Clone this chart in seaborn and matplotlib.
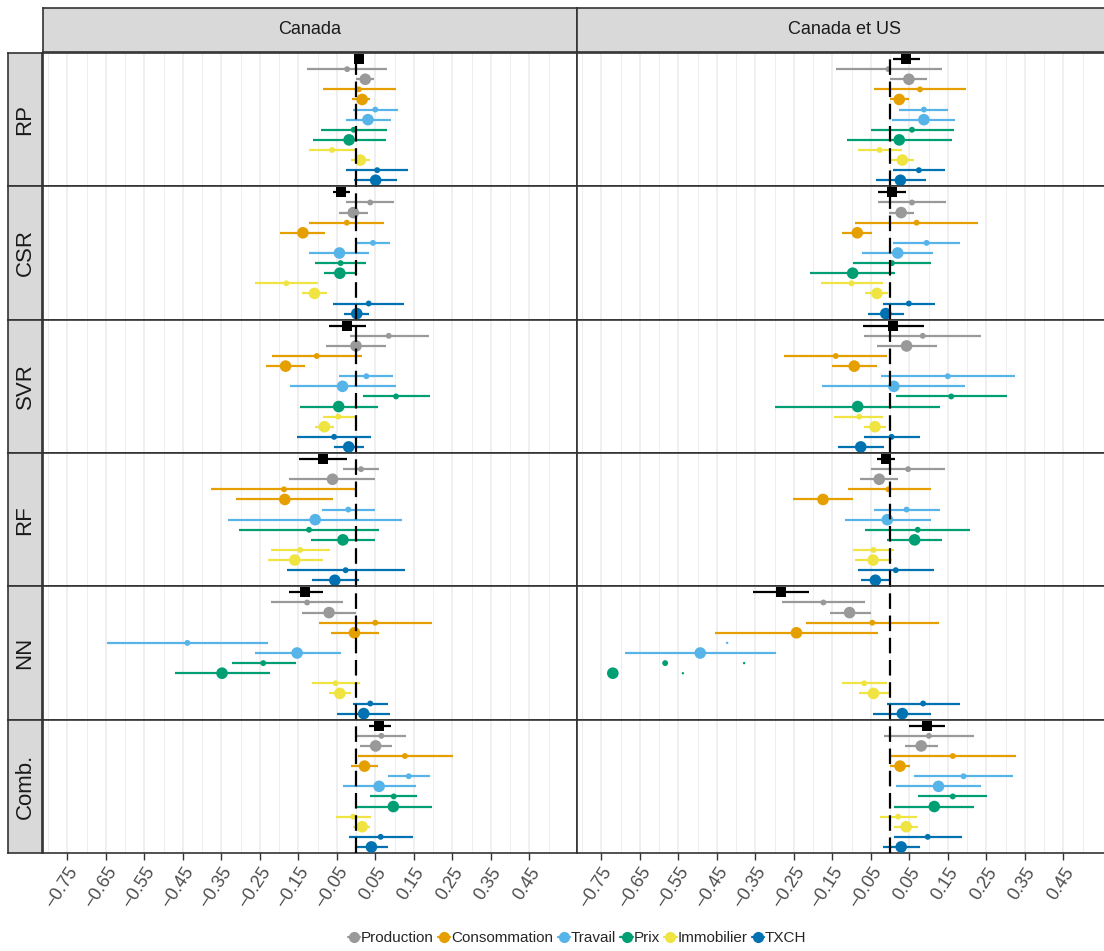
import numpy as np
import pandas as pd
import matplotlib
matplotlib.use("Agg")
import matplotlib.pyplot as plt
import seaborn as sns
from matplotlib.lines import Line2D

sns.set_theme(style="white")
plt.rcParams['font.family'] = ['Liberation Sans', 'DejaVu Sans']

nan = np.nan
regions = ["Canada", "Canada et US"]
methods = ["RP", "CSR", "SVR", "RF", "NN", "Comb."]
variables = ["Production", "Consommation", "Travail", "Prix", "Immobilier", "TXCH"]
palette = ["#999999", "#E69F00", "#56B4E9", "#009E73", "#F0E442", "#0072B2"]
tick_vals = [-0.75, -0.65, -0.55, -0.45, -0.35, -0.25, -0.15, -0.05, 0.05, 0.15, 0.25, 0.35, 0.45]

# each panel: row 0 = combined (black square), then per variable: (small, large) ; (estimate, low, high)
ca_rp = [(0.009, -0.002, 0.020), (-0.023, -0.126, 0.081), (0.024, 0.001, 0.047),
         (0.007, -0.086, 0.104), (0.016, -0.011, 0.037), (0.050, -0.008, 0.108),
         (0.031, -0.027, 0.090), (-0.006, -0.090, 0.080), (-0.018, -0.113, 0.078),
         (-0.062, -0.123, -0.001), (0.011, -0.014, 0.036), (0.055, -0.027, 0.135),
         (0.051, -0.005, 0.107)]
ca_csr = [(-0.039, -0.060, -0.015), (0.037, -0.025, 0.098), (-0.007, -0.044, 0.031),
          (-0.024, -0.122, 0.074), (-0.138, -0.197, -0.080), (0.044, 0.002, 0.088),
          (-0.043, -0.121, 0.035), (-0.040, -0.106, 0.026), (-0.042, -0.084, 0.000),
          (-0.181, -0.263, -0.099), (-0.108, -0.140, -0.075), (0.033, -0.060, 0.125),
          (0.002, -0.030, 0.033)]
ca_svr = [(-0.023, -0.071, 0.026), (0.085, -0.016, 0.190), (0.000, -0.078, 0.079),
          (-0.102, -0.217, 0.015), (-0.183, -0.235, -0.132), (0.027, -0.043, 0.097),
          (-0.035, -0.172, 0.103), (0.104, 0.017, 0.191), (-0.045, -0.146, 0.058),
          (-0.046, -0.086, -0.002), (-0.082, -0.107, -0.056), (-0.057, -0.152, 0.039),
          (-0.019, -0.058, 0.020)]
ca_rf = [(-0.087, -0.149, -0.023), (0.013, -0.034, 0.060), (-0.061, -0.175, 0.050),
         (-0.187, -0.376, -0.001), (-0.185, -0.313, -0.059), (-0.020, -0.089, 0.050),
         (-0.106, -0.332, 0.120), (-0.122, -0.304, 0.060), (-0.034, -0.117, 0.050),
         (-0.145, -0.222, -0.067), (-0.159, -0.229, -0.087), (-0.027, -0.179, 0.126),
         (-0.055, -0.115, 0.007)]
ca_nn = [(-0.132, -0.174, -0.085), (-0.127, -0.221, -0.033), (-0.070, -0.140, 0.001),
         (0.050, -0.095, 0.197), (-0.004, -0.065, 0.059), (-0.438, -0.647, -0.228),
         (-0.153, -0.262, -0.040), (-0.241, -0.323, -0.157), (-0.348, -0.470, -0.223),
         (-0.053, -0.115, 0.010), (-0.042, -0.070, -0.013), (0.037, -0.007, 0.082),
         (0.020, -0.049, 0.088)]
ca_comb = [(0.059, 0.033, 0.090), (0.066, 0.002, 0.129), (0.051, 0.010, 0.093),
           (0.127, 0.004, 0.252), (0.022, -0.013, 0.057), (0.137, 0.084, 0.191),
           (0.060, -0.035, 0.157), (0.098, 0.037, 0.159), (0.097, 0.003, 0.197),
           (-0.007, -0.052, 0.039), (0.016, -0.007, 0.037), (0.064, -0.018, 0.147),
           (0.040, -0.003, 0.084)]
us_rp = [(0.042, 0.008, 0.078), (-0.004, -0.141, 0.134), (0.049, 0.001, 0.096),
         (0.078, -0.041, 0.198), (0.024, 0.001, 0.050), (0.088, 0.023, 0.151),
         (0.088, 0.005, 0.169), (0.057, -0.050, 0.166), (0.024, -0.112, 0.162),
         (-0.027, -0.084, 0.032), (0.032, 0.001, 0.063), (0.075, 0.008, 0.143),
         (0.027, -0.037, 0.094)]
us_csr = [(0.004, -0.032, 0.041), (0.057, -0.031, 0.145), (0.029, -0.002, 0.062),
          (0.069, -0.091, 0.229), (-0.085, -0.125, -0.046), (0.095, 0.008, 0.181),
          (0.020, -0.073, 0.112), (0.005, -0.095, 0.106), (-0.097, -0.207, 0.014),
          (-0.100, -0.180, -0.017), (-0.034, -0.064, -0.006), (0.049, -0.019, 0.118),
          (-0.011, -0.057, 0.036)]
us_svr = [(0.008, -0.070, 0.087), (0.085, -0.067, 0.237), (0.043, -0.034, 0.123),
          (-0.141, -0.275, -0.008), (-0.093, -0.150, -0.035), (0.150, -0.023, 0.325),
          (0.010, -0.176, 0.194), (0.159, 0.016, 0.303), (-0.084, -0.299, 0.130),
          (-0.080, -0.145, -0.017), (-0.039, -0.068, -0.011), (0.004, -0.068, 0.077),
          (-0.076, -0.136, -0.015)]
us_rf = [(-0.010, -0.034, 0.014), (0.047, -0.050, 0.143), (-0.028, -0.077, 0.021),
         (-0.004, -0.110, 0.107), (-0.174, -0.251, -0.096), (0.043, -0.042, 0.129),
         (-0.007, -0.118, 0.106), (0.072, -0.065, 0.209), (0.064, -0.007, 0.134),
         (-0.043, -0.096, 0.010), (-0.044, -0.091, 0.004), (0.015, -0.083, 0.114),
         (-0.038, -0.076, 0.000)]
us_nn = [(-0.283, -0.356, -0.210), (-0.173, -0.280, -0.065), (-0.105, -0.157, -0.050),
         (-0.046, -0.218, 0.126), (-0.243, -0.454, -0.031), (nan, nan, nan),
         (-0.493, -0.688, -0.296), (-0.584, nan, nan), (-0.720, nan, nan),
         (-0.067, -0.124, -0.009), (-0.043, -0.081, -0.003), (0.086, -0.009, 0.181),
         (0.032, -0.044, 0.107)]
us_comb = [(0.096, 0.050, 0.144), (0.101, -0.015, 0.218), (0.081, 0.039, 0.125),
           (0.163, 0.001, 0.327), (0.026, 0.001, 0.051), (0.191, 0.063, 0.320),
           (0.126, 0.016, 0.237), (0.163, 0.073, 0.253), (0.115, 0.010, 0.219),
           (0.021, -0.026, 0.069), (0.042, 0.011, 0.073), (0.098, 0.010, 0.187),
           (0.029, -0.019, 0.078)]
# tiny residual marks in the NN / Canada et US panel
speck_pos = [5, 7, 8]
speck_x = [-0.423, -0.379, -0.538]

panels = {
    ("Canada", "RP"): ca_rp, ("Canada", "CSR"): ca_csr, ("Canada", "SVR"): ca_svr,
    ("Canada", "RF"): ca_rf, ("Canada", "NN"): ca_nn, ("Canada", "Comb."): ca_comb,
    ("Canada et US", "RP"): us_rp, ("Canada et US", "CSR"): us_csr,
    ("Canada et US", "SVR"): us_svr, ("Canada et US", "RF"): us_rf,
    ("Canada et US", "NN"): us_nn, ("Canada et US", "Comb."): us_comb,
}

rows = []
for (reg, met), vals in panels.items():
    for i, (e, lo, hi) in enumerate(vals):
        if i == 0:
            var, kind = "Tous", "all"
        else:
            var = variables[(i - 1) // 2]
            kind = "small" if (i - 1) % 2 == 0 else "large"
        rows.append(dict(region=reg, method=met, pos=i, variable=var, kind=kind,
                         est=e, lo=lo, hi=hi))
df = pd.DataFrame(rows)
colmap = dict(zip(variables, palette))
colmap["Tous"] = "black"

W, H = 1104, 951
fig = plt.figure(figsize=(W / 100, H / 100), dpi=100)
fig.patch.set_facecolor("white")

col_x = [43, 577]
col_w = 534
top, bottom = 53, 853
row_h = (bottom - top) / 6
xlim = (-0.813, 0.574)
minor = [v - 0.05 for v in tick_vals] + [0.5]
border = "#333333"

def fx(px):
    return px / W

def fy(py):
    return 1 - py / H

for c, reg in enumerate(regions):
    # column strip
    sax = fig.add_axes([fx(col_x[c]), fy(top - 1), fx(col_w), (44) / H])
    sax.set_facecolor("#D9D9D9")
    sax.set_xticks([]); sax.set_yticks([])
    for sp in sax.spines.values():
        sp.set_color(border); sp.set_linewidth(1.2)
    sax.text(0.5, 0.5, reg, ha="center", va="center", fontsize=13, color="#1A1A1A",
             transform=sax.transAxes)
    for r, met in enumerate(methods):
        y0 = top + r * row_h
        ax = fig.add_axes([fx(col_x[c]), fy(y0 + row_h), fx(col_w), row_h / H])
        sub = df[(df.region == reg) & (df.method == met)]
        ax.set_xlim(*xlim)
        ax.set_ylim(12.6, -0.6)
        ax.set_xticks(tick_vals)
        ax.set_xticks(minor, minor=True)
        ax.grid(which="major", axis="x", color="#EBEBEB", lw=1.1)
        ax.grid(which="minor", axis="x", color="#EBEBEB", lw=0.6)
        ax.set_axisbelow(True)
        bars = sub.dropna(subset=["lo", "hi"])
        ax.hlines(bars.pos, bars.lo, bars.hi, colors=[colmap[v] for v in bars.variable],
                  lw=1.6, zorder=2)
        pts = sub.dropna(subset=["est"])
        sm = pts[pts.kind == "small"]
        lg = pts[pts.kind == "large"]
        al = pts[pts.kind == "all"]
        sns.scatterplot(data=sm, x="est", y="pos", hue="variable", palette=colmap,
                        s=18, marker="o", linewidth=0, legend=False, ax=ax, zorder=3)
        sns.scatterplot(data=lg, x="est", y="pos", hue="variable", palette=colmap,
                        s=70, marker="o", linewidth=0, legend=False, ax=ax, zorder=3)
        sns.scatterplot(data=al, x="est", y="pos", color="black",
                        s=55, marker="s", linewidth=0, legend=False, ax=ax, zorder=3)
        if reg == "Canada et US" and met == "NN":
            sc = [colmap[variables[(p - 1) // 2]] for p in speck_pos]
            ax.scatter(speck_x, speck_pos, s=3, c=sc, linewidths=0, zorder=3)
        ax.axvline(0, color="black", lw=1.6, ls=(0, (7, 3)), zorder=4)
        ax.set_xlabel(""); ax.set_ylabel("")
        ax.set_yticks([])
        for sp in ax.spines.values():
            sp.set_color(border); sp.set_linewidth(1.2)
        ax.tick_params(axis="x", which="minor", length=0)
        if r == len(methods) - 1:
            labs = [("\u2212" if v < 0 else "") + f"{abs(v):.2f}" for v in tick_vals]
            ax.set_xticklabels(labs, rotation=57, ha="right", va="top",
                               rotation_mode="anchor")
            ax.tick_params(axis="x", which="major", direction="out", length=5, width=1,
                           color=border, labelsize=13, labelcolor="#4D4D4D", pad=3,
                           bottom=True)
        else:
            ax.tick_params(axis="x", which="major", length=0, labelbottom=False)
        if c == 0:
            rax = fig.add_axes([fx(8), fy(y0 + row_h), fx(34), row_h / H])
            rax.set_facecolor("#D9D9D9")
            rax.set_xticks([]); rax.set_yticks([])
            for sp in rax.spines.values():
                sp.set_color(border); sp.set_linewidth(1.2)
            rax.text(0.5, 0.5, met, ha="center", va="center", rotation=90, fontsize=16,
                     color="#1A1A1A", transform=rax.transAxes)

handles = [Line2D([0], [0], color=col, marker="o", markersize=7, lw=1.6)
           for col in palette]
fig.legend(handles, variables, loc="center", bbox_to_anchor=(fx(577), fy(938)),
           ncol=6, frameon=False, fontsize=11, handlelength=0.8, handletextpad=0.05,
           columnspacing=0.3, borderaxespad=0)

fig.savefig("out.png", dpi=100, facecolor="white")
